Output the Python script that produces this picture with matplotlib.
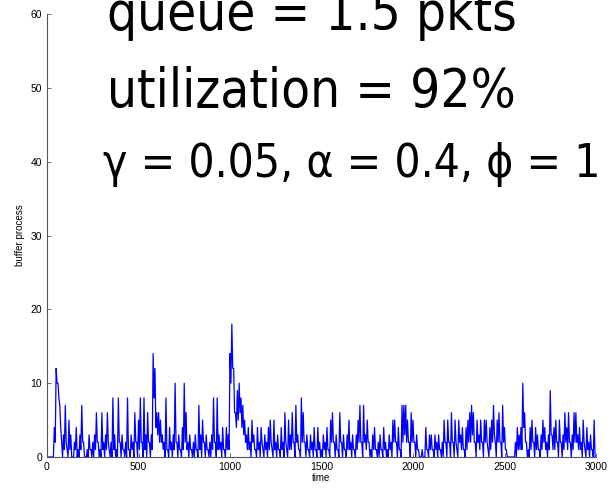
import numpy as np
import matplotlib.pyplot as plt

# buffer occupancy: local highs at t = 0, 10, 20, ... (one row = 100 time units)
buffer_peaks = [
    [0, 0, 0, 0, 4, 12, 10, 7, 2, 3],
    [7, 1, 5, 3, 0, 2, 4, 1, 3, 7],
    [2, 0, 1, 3, 1, 2, 3, 6, 2, 1],
    [6, 2, 3, 6, 1, 2, 8, 3, 1, 8],
    [2, 3, 1, 2, 8, 1, 3, 2, 6, 2],
    [5, 8, 2, 8, 3, 6, 2, 3, 14, 12],
    [6, 6, 5, 3, 2, 8, 1, 4, 2, 3],
    [10, 2, 3, 1, 4, 10, 6, 2, 3, 1],
    [2, 3, 1, 7, 3, 5, 2, 3, 1, 2],
    [3, 8, 2, 8, 3, 2, 4, 1, 4, 3],
    [14, 18, 12, 6, 9, 10, 8, 7, 5, 3],
    [4, 2, 5, 3, 1, 4, 2, 4, 1, 3],
    [2, 4, 5, 1, 5, 2, 3, 1, 4, 2],
    [6, 1, 5, 3, 6, 2, 7, 3, 1, 8],
    [6, 2, 3, 1, 3, 2, 4, 1, 4, 2],
    [1, 3, 2, 4, 1, 5, 6, 2, 3, 1],
    [6, 2, 3, 1, 3, 5, 2, 3, 1, 3],
    [5, 7, 2, 7, 3, 5, 2, 1, 3, 4],
    [1, 2, 3, 1, 4, 2, 1, 3, 2, 5],
    [5, 2, 4, 1, 7, 7, 7, 5, 2, 6],
    [5, 2, 3, 1, 0, 1, 0, 4, 1, 3],
    [3, 1, 3, 2, 3, 1, 2, 5, 2, 5],
    [2, 6, 2, 5, 1, 5, 3, 4, 1, 4],
    [5, 6, 7, 6, 2, 5, 3, 5, 2, 5],
    [5, 1, 4, 5, 7, 2, 5, 6, 2, 7],
    [4, 1, 0, 0, 0, 0, 2, 4, 3, 4],
    [10, 6, 2, 1, 4, 5, 2, 4, 3, 1],
    [3, 5, 4, 2, 3, 9, 3, 4, 5, 2],
    [5, 2, 3, 6, 4, 6, 2, 3, 6, 6],
    [3, 4, 2, 5, 1, 4, 2, 3, 1, 5],
]
# local lows in between, at t = 5, 15, 25, ...
buffer_lows = [
    [0, 0, 0, 0, 2, 10, 8, 4, 0, 1],
    [2, 0, 1, 0, 0, 1, 0, 0, 1, 2],
    [0, 0, 0, 1, 0, 0, 1, 2, 0, 0],
    [1, 0, 1, 2, 0, 0, 1, 0, 0, 2],
    [0, 1, 0, 0, 1, 0, 1, 0, 2, 0],
    [1, 2, 0, 1, 0, 2, 0, 1, 8, 4],
    [3, 2, 2, 1, 0, 1, 0, 1, 0, 1],
    [2, 0, 1, 0, 1, 2, 1, 0, 1, 0],
    [0, 1, 0, 1, 0, 2, 0, 1, 0, 0],
    [1, 2, 0, 1, 1, 0, 1, 0, 1, 1],
    [10, 12, 6, 4, 5, 6, 4, 3, 2, 1],
    [1, 0, 2, 1, 0, 1, 0, 2, 0, 1],
    [0, 1, 2, 0, 1, 0, 1, 0, 1, 0],
    [2, 0, 1, 1, 2, 0, 2, 1, 0, 2],
    [2, 0, 1, 0, 1, 0, 1, 0, 1, 0],
    [0, 1, 0, 1, 0, 2, 2, 0, 1, 0],
    [2, 0, 1, 0, 1, 1, 0, 1, 0, 1],
    [2, 2, 0, 2, 1, 2, 0, 0, 1, 1],
    [0, 0, 1, 0, 1, 0, 0, 1, 0, 2],
    [2, 0, 1, 0, 2, 3, 2, 2, 0, 2],
    [2, 0, 1, 0, 0, 0, 0, 1, 0, 1],
    [1, 0, 1, 0, 1, 0, 0, 2, 0, 2],
    [0, 2, 0, 2, 0, 2, 1, 1, 0, 1],
    [2, 2, 3, 2, 0, 2, 1, 2, 0, 2],
    [2, 0, 1, 2, 3, 0, 2, 2, 0, 2],
    [1, 0, 0, 0, 0, 0, 0, 1, 1, 1],
    [4, 2, 0, 0, 1, 2, 0, 1, 1, 0],
    [1, 2, 1, 0, 1, 3, 1, 1, 2, 0],
    [2, 0, 1, 2, 1, 2, 0, 1, 2, 2],
    [1, 1, 0, 2, 0, 1, 0, 1, 0, 0],
]
buffer = np.column_stack([np.ravel(buffer_peaks), np.ravel(buffer_lows)]).ravel()
time = np.arange(len(buffer)) * 5

x_ticks = [0, 500, 1000, 1500, 2000, 2500, 3000]
y_ticks = [0, 10, 20, 30, 40, 50, 60]

fig = plt.figure(figsize=(6.12, 4.91), dpi=100)
ax = fig.add_axes([47 / 612, 34 / 491, 549 / 612, 443 / 491])

ax.plot(time, buffer, color='blue', linewidth=0.9)

ax.set_xlim(0, 3000)
ax.set_ylim(0, 60)
ax.set_xticks(x_ticks)
ax.set_yticks(y_ticks)
for side in ['top', 'right']:
    ax.spines[side].set_visible(False)
for side in ['left', 'bottom']:
    ax.spines[side].set_color('#555555')
    ax.spines[side].set_linewidth(0.8)
ax.tick_params(direction='in', length=3, width=0.6, labelsize=7.5, colors='#555555', labelcolor='black')
for lbl in ax.get_xticklabels() + ax.get_yticklabels():
    lbl.set_family('Liberation Sans')
ax.set_xlabel('time', fontsize=7, family='Liberation Sans', labelpad=1)
ax.set_ylabel('buffer process', fontsize=7, family='Liberation Sans', labelpad=4)

# big annotation lines
big = dict(va='baseline', family='DejaVu Sans', fontstretch='condensed')
fig.text(107 / 612, 1 - 30 / 491, 'queue = 1.5 pkts', fontsize=38, **big)
fig.text(107 / 612, 1 - 107 / 491, 'utilization = 92%', fontsize=38, **big)
fig.text(103 / 612, 1 - 177 / 491, 'γ = 0.05, α = 0.4, ϕ = 1', fontsize=33, **big)

fig.savefig('out.png', dpi=100)
